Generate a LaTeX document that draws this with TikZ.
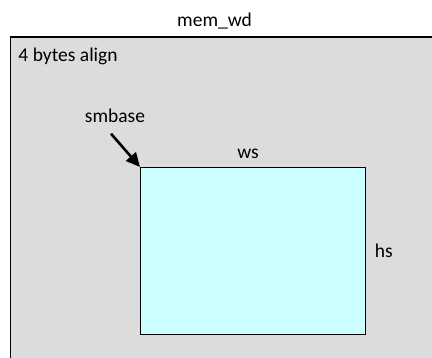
\documentclass[tikz,border=0pt]{standalone}
\usepackage{fontspec}
\setmainfont{Carlito}
\usetikzlibrary{arrows.meta,positioning,calc}
\definecolor{memGray}{RGB}{220,220,220}
\definecolor{winCyan}{RGB}{204,255,255}

\begin{document}
\begin{tikzpicture}[x=1pt,y=-1pt,
        area/.style={draw,line width=1.8pt,fill=memGray,anchor=north west,inner sep=0pt},
        win/.style={draw,line width=1.4pt,fill=winCyan,anchor=north west,inner sep=0pt,minimum width=225pt,minimum height=167pt},
        lbl/.style={font=\fontsize{19.5}{22}\selectfont,inner sep=0pt},
        arrow/.style={-{Triangle[length=14pt,width=13pt]},line width=2.6pt}
      ]
        \useasboundingbox (0,0) rectangle (432,358);
        \clip (0,0) rectangle (432,358);
        \node[area,minimum width=440pt,minimum height=340pt] (mem) at (9.5,36) {};
        \node[win] (rect) at (140,167) {};

        \node[lbl,anchor=base] (title) at (214.5,27) {mem\_wd};
        \node[lbl,anchor=base west] (align) at (18.3,61.7) {4 bytes align};
        \node[lbl,anchor=base] (smbase) at (115,122.7) {smbase};
        \node[lbl,anchor=base] (ws) at (248,158.3) {ws};
        \node[lbl,anchor=base west] (hs) at (374.7,257.3) {hs};

        \draw[arrow] ($(smbase.base)+(-4,11)$) -- (rect.north west);
      \end{tikzpicture}
\end{document}
